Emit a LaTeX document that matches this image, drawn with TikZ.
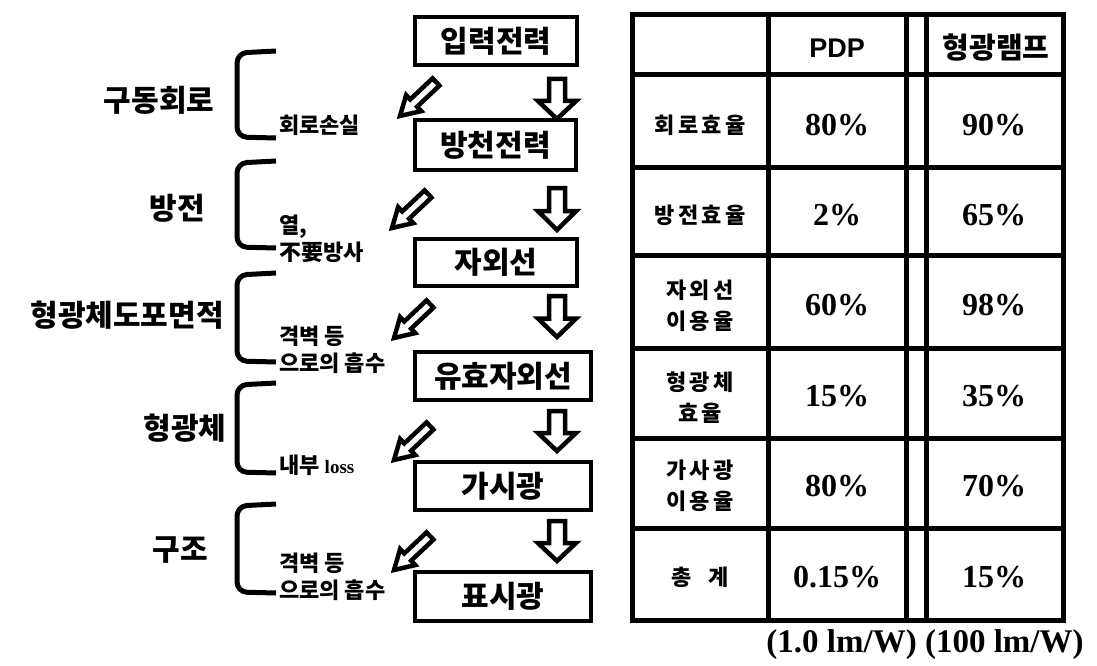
\documentclass[tikz,border=0pt]{standalone}
\usepackage{fontspec}
\setmainfont{Liberation Serif}
\newfontfamily\kr{Noto Sans CJK KR}
\newfontfamily\krsp{Noto Sans CJK KR}[LetterSpace=16]
\newfontfamily\arialf{Liberation Sans}
\usetikzlibrary{calc}
\newcommand\harrow[5]{%
  \coordinate (hA) at #1; \coordinate (hB) at #2; \coordinate (hC) at ($(hA)!#5!(hB)$);
  \draw[arr] ($(hA)!#3!90:(hB)$) -- ($(hC)!#3!90:(hB)$) -- ($(hC)!#4!90:(hB)$) -- (hB)
    -- ($(hC)!#4!-90:(hB)$) -- ($(hC)!#3!-90:(hB)$) -- ($(hA)!#3!-90:(hB)$) -- cycle;}
\newcommand\brk[2]{\draw[brkline] (276,#1+1) -- (237,#1+3) -- (237,#2-1) -- (276,#2);}
\tikzset{
  fbox/.style={draw, line width=4pt, inner sep=0pt, font=\kr\bfseries\fontsize{30}{32}\selectfont},
  arr/.style={draw, fill=white, line width=4.5pt, line join=miter},
  brkline/.style={line width=5pt, rounded corners=10pt},
  biglab/.style={font=\kr\bfseries\fontsize{30}{32}\selectfont, inner sep=0pt},
  smlab/.style={font=\kr\bfseries\fontsize{22}{27}\selectfont, inner sep=0pt, anchor=west, align=left},
  tl/.style={line width=5pt},
  cellk/.style={font=\krsp\bfseries\fontsize{22}{31}\selectfont, inner sep=0pt, align=center},
  cellp/.style={font=\bfseries\fontsize{32}{33}\selectfont, inner sep=0pt},
}
\begin{document}
\begin{tikzpicture}[x=1pt,y=-1pt]
\useasboundingbox (0,0) rectangle (1097,666);
% flow boxes
\node[fbox, minimum width=162pt, minimum height=48pt] (b1) at (496,41) {입력전력};
\node[fbox, minimum width=161pt, minimum height=50pt] (b2) at (495.5,145) {방천전력};
\node[fbox, minimum width=162pt, minimum height=47pt] (b3) at (496,262.5) {자외선};
\node[fbox, minimum width=176pt, minimum height=48pt] (b4) at (503,376) {유효자외선};
\node[fbox, minimum width=176pt, minimum height=48pt] (b5) at (503,486) {가시광};
\node[fbox, minimum width=176pt, minimum height=49pt] (b6) at (503,596.5) {표시광};
% down arrows
\harrow{(557,79)}{(557,119)}{8pt}{19pt}{0.55}
\harrow{(557,188)}{(557,230)}{8pt}{19pt}{0.55}
\harrow{(557,296)}{(557,337)}{8pt}{19pt}{0.55}
\harrow{(557,411)}{(557,451)}{8pt}{19pt}{0.55}
\harrow{(557,521)}{(557,561)}{8pt}{19pt}{0.55}
% diagonal arrows
\harrow{(436,82)}{(400,116)}{5pt}{11pt}{0.62}
\harrow{(428,194)}{(392,228)}{5pt}{11pt}{0.62}
\harrow{(430,304)}{(394,338)}{5pt}{11pt}{0.62}
\harrow{(430,426)}{(394,460)}{5pt}{11pt}{0.62}
\harrow{(430,536)}{(394,570)}{5pt}{11pt}{0.62}
% brackets
\brk{50}{138}
\brk{160}{248}
\brk{272}{362}
\brk{382}{473}
\brk{503}{593}
% left labels
\node[biglab] (l1) at (159,100) {구동회로};
\node[biglab] (l2) at (177,208) {방전};
\node[biglab] (l3) at (127,315) {형광체도포면적};
\node[biglab] (l4) at (185,428) {형광체};
\node[biglab] (l5) at (180,550) {구조};
% small labels
\node[smlab] (s1) at (279,125) {회로손실};
\node[smlab] (s2) at (279,239) {열,\\不要방사};
\node[smlab] (s3) at (279,350) {격벽 등\\으로의 흡수};
\node[smlab] (s4) at (279,465) {내부 {\rmfamily\bfseries\fontsize{19}{20}\selectfont loss}};
\node[smlab] (s5) at (279,577) {격벽 등\\으로의 흡수};
% table
\draw[tl] (632,15) rectangle (1063,620);
\foreach \xx in {768,906,926} \draw[tl] (\xx,15) -- (\xx,620);
\foreach \yy in {75,167,255,348,438,528} \draw[tl] (632,\yy) -- (1063,\yy);
\node[font=\arialf\bfseries\fontsize{27}{30}\selectfont, inner sep=0pt] (hp) at (837,48) {PDP};
\node[font=\kr\bfseries\fontsize{29}{30}\selectfont, inner sep=0pt] (hl) at (996,48) {형광램프};
\node[cellk] (r1) at (700,125) {회로효율};
\node[cellk] (r2) at (700,215) {방전효율};
\node[cellk] (r3) at (700,306) {자외선\\이용율};
\node[cellk] (r4) at (700,398) {형광체\\효율};
\node[cellk] (r5) at (700,486) {가사광\\이용율};
\node[cellk, font=\kr\bfseries\fontsize{22}{31}\selectfont] (r6) at (700,577) {총\hspace{16pt}계};
\node[cellp] (p1) at (837,125) {80\%};
\node[cellp] (p2) at (837,215) {2\%};
\node[cellp] (p3) at (837,305) {60\%};
\node[cellp] (p4) at (837,396) {15\%};
\node[cellp] (p5) at (837,486) {80\%};
\node[cellp] (p6) at (837,577) {0.15\%};
\node[cellp] (q1) at (994,125) {90\%};
\node[cellp] (q2) at (994,215) {65\%};
\node[cellp] (q3) at (994,305) {98\%};
\node[cellp] (q4) at (994,396) {35\%};
\node[cellp] (q5) at (994,486) {70\%};
\node[cellp] (q6) at (994,577) {15\%};
\node[cellp, font=\bfseries\fontsize{33}{34}\selectfont] (ft) at (925,645) {(1.0 lm/W) (100 lm/W)};
\end{tikzpicture}
\end{document}
